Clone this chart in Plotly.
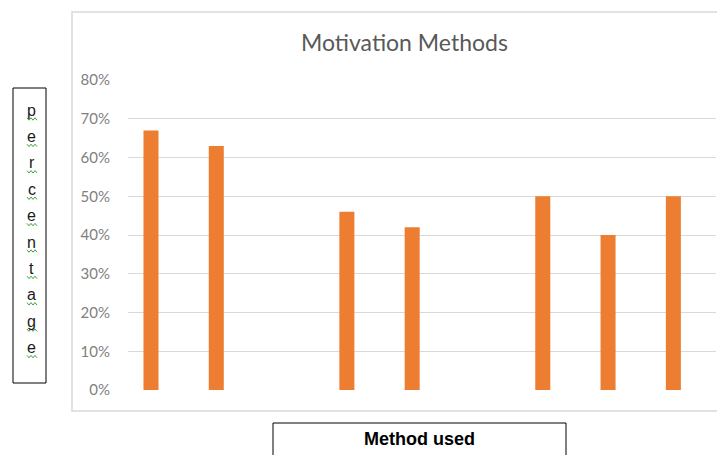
import plotly.graph_objects as go

# ---- data ----
categories = ["M1", "M2", "M3", "M4", "M5", "M6", "M7", "M8", "M9"]
values = [0.67, 0.63, None, 0.46, 0.42, None, 0.50, 0.40, 0.50]
y_ticks = [0, 0.1, 0.2, 0.3, 0.4, 0.5, 0.6, 0.7, 0.8]
title_text = "Motivation Methods"
x_title = "Method used"
y_title = "percentage"

OFF = 8  # page body margin
W, H = 725 - OFF, 455 - OFF
L, R, T, B = 128 - OFF, 9, 80 - OFF, 65
PW, PH = W - L - R, H - T - B


def px(x):
    return (x - OFF - L) / PW


def py(y):
    return (H - B - (y - OFF)) / PH


fig = go.Figure()
fig.add_trace(go.Bar(
    x=categories, y=values,
    marker=dict(color="#ED7D31", line=dict(width=0)),
    hoverinfo="skip",
))

shapes = []
# chart area border (light grey)
shapes.append(dict(type="rect", xref="paper", yref="paper",
                   x0=px(72), x1=px(740), y0=py(411), y1=py(12),
                   line=dict(color="#d9d9d9", width=1.5), layer="below"))
# percentage box
shapes.append(dict(type="rect", xref="paper", yref="paper",
                   x0=px(13), x1=px(46), y0=py(383), y1=py(88),
                   line=dict(color="#000000", width=1)))
# Method used box
shapes.append(dict(type="rect", xref="paper", yref="paper",
                   x0=px(273), x1=px(566), y0=py(470), y1=py(423),
                   line=dict(color="#000000", width=1)))

annotations = []
# stacked letters for y title
for i, ch in enumerate(y_title):
    cy = 110 + i * 26.4
    annotations.append(dict(text=ch, xref="paper", yref="paper",
                            x=px(31.5), y=py(cy), showarrow=False,
                            xanchor="center", yanchor="middle",
                            font=dict(family="Liberation Sans, Arial", size=16, color="#1a1a1a")))
    # green spell-check squiggle
    sy = cy + 9
    pts = []
    for k in range(6):
        xx = 27 + k * 2
        yy = sy + (1.2 if k % 2 else -1.2)
        pts.append((px(xx), py(yy)))
    path = "M " + " L ".join(f"{a},{b}" for a, b in pts)
    shapes.append(dict(type="path", xref="paper", yref="paper", path=path,
                       line=dict(color="#3aa33a", width=1)))

annotations.append(dict(text=f"<b>{x_title}</b>", xref="paper", yref="paper",
                        x=px(419), y=py(439), showarrow=False,
                        xanchor="center", yanchor="middle",
                        font=dict(family="Liberation Sans, Arial", size=18, color="#000000")))
annotations.append(dict(text=title_text, xref="paper", yref="paper",
                        x=px(404), y=py(42), showarrow=False,
                        xanchor="center", yanchor="middle",
                        font=dict(family="Lato, Open Sans", size=23, color="#595959")))

fig.update_layout(
    width=W, height=H,
    margin=dict(l=L, r=R, t=T, b=B),
    paper_bgcolor="white", plot_bgcolor="white",
    showlegend=False,
    bargap=0.77,
    shapes=shapes, annotations=annotations,
    xaxis=dict(type="category", range=[-0.352, 8.653], showticklabels=False,
               showgrid=False, showline=False, zeroline=False, ticks=""),
    yaxis=dict(range=[0, 0.8], tickvals=y_ticks, tickformat=".0%",
               showgrid=True, gridcolor="#d9d9d9", gridwidth=1.2,
               zeroline=False, showline=False,
               ticks="outside", ticklen=14, tickcolor="rgba(0,0,0,0)",
               tickfont=dict(family="Lato, Open Sans", size=15, color="#7f7f7f")),
)

fig.write_html("out.html")
